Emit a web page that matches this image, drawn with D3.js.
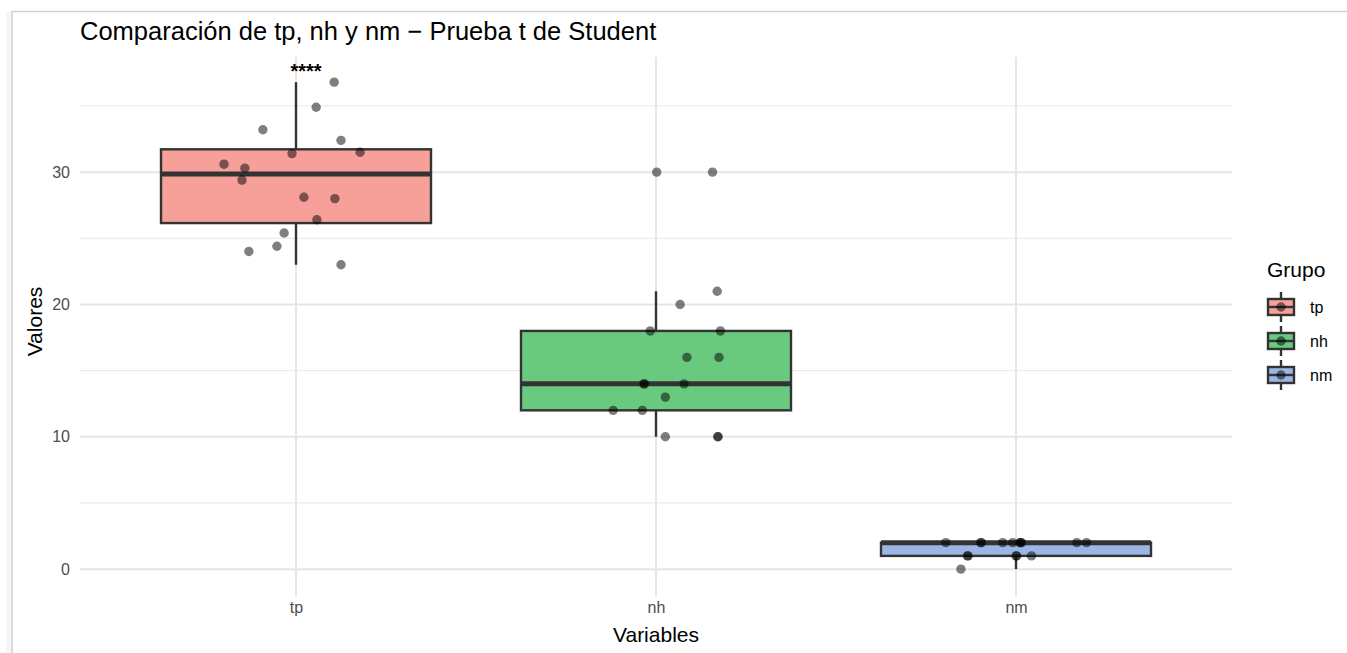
<!DOCTYPE html>
<html>
<head>
<meta charset="utf-8">
<script src="https://cdn.jsdelivr.net/npm/d3@7"></script>
<style>
  body { margin: 0; background: #fff; }
  svg { display: block; font-family: "Liberation Sans", Arial, sans-serif; }
</style>
</head>
<body>
<svg width="1347" height="653"></svg>
<script>
// categories and values
var categories = ["tp", "nh", "nm"];

var tpValues = [36.8, 34.9, 33.2, 32.4, 31.4, 31.5, 30.6, 30.3, 29.4, 28.1, 28.0, 26.4, 25.4, 24.4, 24.0, 23.0];
var tpJitter = [0.106, 0.056, -0.092, 0.125, -0.011, 0.178, -0.2, -0.142, -0.15, 0.022, 0.108, 0.058, -0.033, -0.053, -0.131, 0.125];

var nhValues = [30, 30, 21, 20, 18, 18, 16, 16, 14, 14, 14, 13, 12, 12, 10, 10, 10];
var nhJitter = [0.002, 0.157, 0.170, 0.067, -0.016, 0.179, 0.086, 0.175, -0.032, -0.034, 0.078, 0.026, -0.119, -0.038, 0.026, 0.171, 0.173];

var nmValues = [2, 2, 2, 2, 2, 2, 2, 2, 2, 2, 1, 1, 1, 1, 1, 0];
var nmJitter = [-0.195, -0.098, -0.096, -0.037, -0.009, 0.013, 0.015, 0.011, 0.169, 0.196, -0.135, -0.133, 0, 0.002, 0.043, -0.153];

var yTicks = [0, 10, 20, 30];
var yMinorTicks = [5, 15, 25, 35];
var fills = ["#F79F99", "#69C97F", "#9BB5E4"];
var signifLabel = "****";
var signifValue = 37.7;

var groups = [
  {name: "tp", values: tpValues, jitter: tpJitter},
  {name: "nh", values: nhValues, jitter: nhJitter},
  {name: "nm", values: nmValues, jitter: nmJitter}
];

var svg = d3.select("svg"),
    panel = {left: 80, right: 1232, top: 57, bottom: 596};

// screenshot frame
svg.append("rect").attr("x", 6).attr("y", 11).attr("width", 6).attr("height", 642).attr("fill", "#f6f6f6");
svg.append("line").attr("x1", 12).attr("x2", 1347).attr("y1", 11.5).attr("y2", 11.5)
    .attr("stroke", "#d0d0d0").attr("stroke-width", 1.5);
svg.append("line").attr("x1", 12).attr("x2", 12).attr("y1", 11).attr("y2", 653)
    .attr("stroke", "#d0d0d0").attr("stroke-width", 1.5);

var x = d3.scalePoint()
    .domain(categories)
    .range([panel.left, panel.right])
    .padding(0.6);
var step = x.step();

var y = d3.scaleLinear()
    .domain([-2.03, 38.7])
    .range([panel.bottom, panel.top]);

var color = d3.scaleOrdinal().domain(categories).range(fills);

// grid
var grid = svg.append("g");
grid.selectAll(".minor").data(yMinorTicks).enter().append("line")
    .attr("x1", panel.left).attr("x2", panel.right)
    .attr("y1", function(d) { return y(d); }).attr("y2", function(d) { return y(d); })
    .attr("stroke", "#EBEBEB").attr("stroke-width", 1.2);
grid.selectAll(".major").data(yTicks).enter().append("line")
    .attr("x1", panel.left).attr("x2", panel.right)
    .attr("y1", function(d) { return y(d); }).attr("y2", function(d) { return y(d); })
    .attr("stroke", "#E6E6E6").attr("stroke-width", 2);
grid.selectAll(".vmajor").data(categories).enter().append("line")
    .attr("x1", function(d) { return x(d); }).attr("x2", function(d) { return x(d); })
    .attr("y1", panel.top).attr("y2", panel.bottom)
    .attr("stroke", "#E6E6E6").attr("stroke-width", 2);

// axes (text only, like theme_minimal)
var yAxis = svg.append("g")
    .attr("transform", "translate(" + (panel.left - 4) + ",0)")
    .call(d3.axisLeft(y).tickValues(yTicks).tickSize(0).tickPadding(6));
yAxis.select(".domain").remove();
yAxis.selectAll("text").attr("fill", "#4D4D4D").style("font-size", "16px")
    .style("font-family", "Liberation Sans, Arial, sans-serif");

var xAxis = svg.append("g")
    .attr("transform", "translate(0," + panel.bottom + ")")
    .call(d3.axisBottom(x).tickSize(0).tickPadding(6));
xAxis.select(".domain").remove();
xAxis.selectAll("text").attr("fill", "#4D4D4D").style("font-size", "16px")
    .style("font-family", "Liberation Sans, Arial, sans-serif");

// box statistics
groups.forEach(function(g) {
  var s = g.values.slice().sort(d3.ascending);
  g.q1 = d3.quantile(s, 0.25);
  g.median = d3.quantile(s, 0.5);
  g.q3 = d3.quantile(s, 0.75);
  var iqr = g.q3 - g.q1;
  g.lo = d3.min(s.filter(function(v) { return v >= g.q1 - 1.5 * iqr; }));
  g.hi = d3.max(s.filter(function(v) { return v <= g.q3 + 1.5 * iqr; }));
});

var boxW = step * 0.75;
var boxes = svg.append("g").selectAll("g").data(groups).enter().append("g");

boxes.append("line")
    .attr("x1", function(d) { return x(d.name); }).attr("x2", function(d) { return x(d.name); })
    .attr("y1", function(d) { return y(d.hi); }).attr("y2", function(d) { return y(d.q3); })
    .attr("stroke", "#333").attr("stroke-width", 2.4);
boxes.append("line")
    .attr("x1", function(d) { return x(d.name); }).attr("x2", function(d) { return x(d.name); })
    .attr("y1", function(d) { return y(d.q1); }).attr("y2", function(d) { return y(d.lo); })
    .attr("stroke", "#333").attr("stroke-width", 2.4);
boxes.append("rect")
    .attr("x", function(d) { return x(d.name) - boxW / 2; })
    .attr("y", function(d) { return y(d.q3); })
    .attr("width", boxW)
    .attr("height", function(d) { return y(d.q1) - y(d.q3); })
    .attr("fill", function(d) { return color(d.name); })
    .attr("stroke", "#333").attr("stroke-width", 2.4);
boxes.append("line")
    .attr("x1", function(d) { return x(d.name) - boxW / 2; })
    .attr("x2", function(d) { return x(d.name) + boxW / 2; })
    .attr("y1", function(d) { return y(d.median); }).attr("y2", function(d) { return y(d.median); })
    .attr("stroke", "#333").attr("stroke-width", 5);

// jittered points
var pts = [];
groups.forEach(function(g) {
  g.values.forEach(function(v, i) { pts.push({name: g.name, v: v, j: g.jitter[i]}); });
});
svg.append("g").selectAll("circle").data(pts).enter().append("circle")
    .attr("cx", function(d) { return x(d.name) + d.j * step; })
    .attr("cy", function(d) { return y(d.v); })
    .attr("r", 4.7)
    .attr("fill", "#000").attr("fill-opacity", 0.5);

// significance label
svg.append("text")
    .attr("x", x("tp") + 10).attr("y", y(signifValue) + 8)
    .attr("text-anchor", "middle")
    .style("font-size", "20px").style("font-weight", "bold")
    .text(signifLabel);

// titles
svg.append("text").attr("x", 80).attr("y", 40)
    .style("font-size", "25.5px").attr("fill", "#000")
    .text("Comparación de tp, nh y nm − Prueba t de Student");
svg.append("text").attr("x", (panel.left + panel.right) / 2).attr("y", 642)
    .attr("text-anchor", "middle").style("font-size", "21px")
    .text("Variables");
svg.append("text")
    .attr("transform", "translate(42," + ((panel.top + panel.bottom) / 2 - 5) + ") rotate(-90)")
    .attr("text-anchor", "middle").style("font-size", "21px")
    .text("Valores");

// legend
var legend = svg.append("g").attr("transform", "translate(1267,0)");
legend.append("text").attr("x", 0).attr("y", 277).style("font-size", "21px").text("Grupo");
var keys = legend.selectAll(".key").data(categories).enter().append("g")
    .attr("transform", function(d, i) { return "translate(0," + (307 + i * 34) + ")"; });
keys.append("line").attr("x1", 14).attr("x2", 14).attr("y1", -15).attr("y2", 15)
    .attr("stroke", "#333").attr("stroke-width", 2.4);
keys.append("rect").attr("x", 1).attr("y", -8).attr("width", 26).attr("height", 16)
    .attr("fill", function(d) { return color(d); })
    .attr("stroke", "#333").attr("stroke-width", 2.4);
keys.append("line").attr("x1", 1).attr("x2", 27).attr("y1", 0).attr("y2", 0)
    .attr("stroke", "#333").attr("stroke-width", 2.4);
keys.append("circle").attr("cx", 14).attr("cy", 0).attr("r", 4.7)
    .attr("fill", "#000").attr("fill-opacity", 0.5);
keys.append("text").attr("x", 43).attr("y", 6).style("font-size", "16px").attr("fill", "#000")
    .text(function(d) { return d; });
</script>
</body>
</html>
